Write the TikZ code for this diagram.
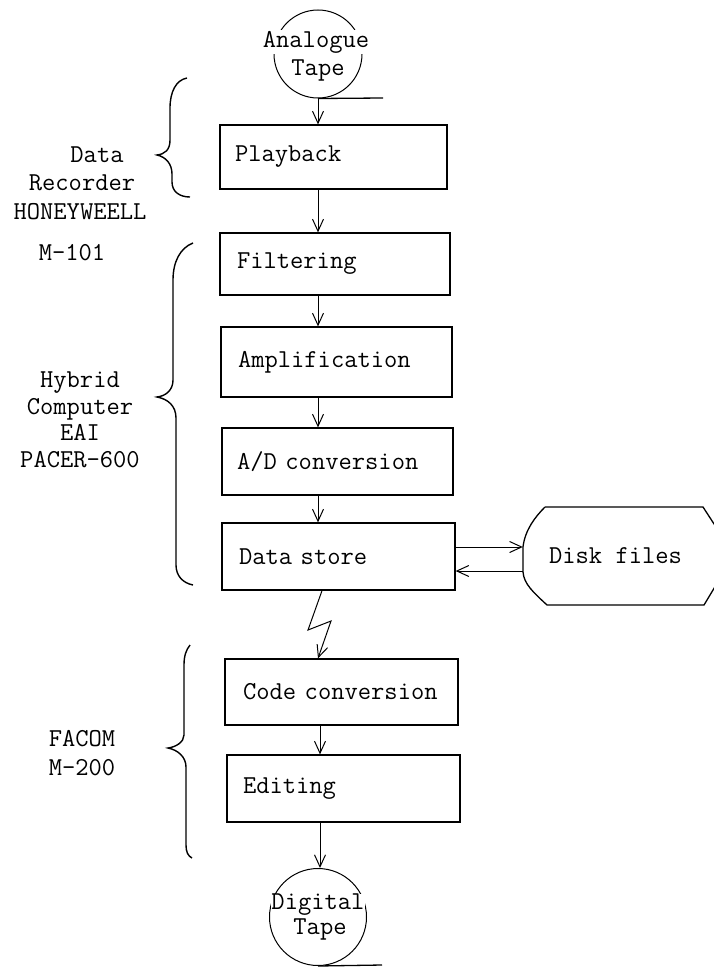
\documentclass[tikz,border=0pt]{standalone}
\usepackage{fontspec}
\usetikzlibrary{arrows.meta}
\begin{document}
\begin{tikzpicture}[x=1pt,y=-1pt,
  every node/.style={font=\fontsize{25.8}{27}\ttfamily},
  procbox/.style={draw, line width=1.3pt, inner xsep=0pt, inner ysep=0pt, align=left},
  arr/.style={line width=1pt, -{Straight Barb[length=12pt,width=11pt,line width=1pt]}},
  bracepath/.style={line width=1.4pt},
  tapecirc/.style={draw, circle, line width=1pt, inner sep=0pt},
  tapetext/.style={fill=white, inner sep=0.5pt},
  sidelabel/.style={align=center, inner sep=0pt}
]
\useasboundingbox[fill=white] (0,0) rectangle (714,969);

\coordinate (ax) at (318,0);
\coordinate (bx) at (320,0);
\coordinate (lx) at (322,0);

% analogue tape
\node[tapecirc, minimum size=88pt] (atape) at (318,54) {};
\node[tapetext] (atxt1) at (316,42) {Analogue};
\node[tapetext] (atxt2) at (318,70) {Tape};
\coordinate (atail) at (383,98);
\draw[line width=1.3pt] (atape.south) -- (atail);

% boxes
\node[procbox, minimum width=227pt, minimum height=64pt, text width=197pt] (play) at (333.5,157) {Playback};
\node[procbox, minimum width=230pt, minimum height=62pt, text width=196pt] (filt) at (335,264) {Filtering};
\node[procbox, minimum width=231pt, minimum height=70pt, text width=197pt] (amp) at (336.5,362) {Amplification};
\node[procbox, minimum width=231pt, minimum height=67pt, text width=201pt] (ad) at (337.5,461.5) {\mbox{A/D conversion}};
\node[procbox, minimum width=233pt, minimum height=67pt, text width=199pt] (store) at (338.5,556.5) {\mbox{Data store}};
\node[procbox, minimum width=233pt, minimum height=66pt, text width=197pt] (code) at (341.5,692) {\raisebox{-5pt}{\mbox{Code conversion}}};
\node[procbox, minimum width=233pt, minimum height=67pt, text width=201pt] (edit) at (343.5,788.5) {\raisebox{-6pt}{Editing}};

% disk files
\node[inner sep=0pt, minimum width=191pt, minimum height=98pt] (disk) at (618.5,556) {\hspace*{-6pt}Disk files};
\draw[line width=1.3pt] (545,507) -- (703,507) -- (716,527) -- (716,585) -- (704,605) -- (547,605)
  .. controls (533,592) and (524,584) .. (523,572) -- (523,547) .. controls (525,530) and (535,517) .. (545,507);

% digital tape
\node[tapecirc, minimum size=97pt] (dtape) at (318,917) {};
\node[tapetext] (dtxt1) at (318,905) {Digital};
\node[tapetext] (dtxt2) at (320,929) {Tape};
\coordinate (dtail) at (382,965);
\draw[line width=1.3pt] (dtape.south) -- (dtail);

% arrows
\draw[arr] (atape.south) -- (play.north -| atape.south);
\draw[arr] (play.south -| ax) -- (filt.north -| ax);
\draw[arr] (filt.south -| ax) -- (amp.north -| ax);
\draw[arr] (amp.south -| ax) -- (ad.north -| ax);
\draw[arr] (ad.south -| ax) -- (store.north -| ax);
\draw[arr] (code.south -| bx) -- (edit.north -| bx);
\draw[arr] (edit.south -| bx) -- (dtape.north -| bx);
\draw[arr] (store.south -| lx) -- (308,630) -- (331,621) -- (code.north -| ax);

\coordinate (up) at (0,547);
\coordinate (dn) at (0,571);
\draw[arr] (store.east |- up) -- (disk.west |- up);
\draw[arr] (disk.west |- dn) -- (store.east |- dn);

% braces
\draw[bracepath] (187,78) .. controls (176,80) and (170,92) .. (170,108) -- (170,140)
  .. controls (170,150) and (165,154) .. (157,155) .. controls (166,157) and (172,164) .. (172,174)
  -- (172,182) .. controls (172,192) and (180,197) .. (190,197);
\draw[bracepath] (193,243) .. controls (180,248) and (173,262) .. (173,280) -- (173,380)
  .. controls (173,390) and (166,396) .. (157,397) .. controls (168,399) and (176,406) .. (176,418)
  -- (176,565) .. controls (176,576) and (183,583) .. (193,585);
\draw[bracepath] (190,645) .. controls (186,650) and (184,656) .. (184,665) -- (184,735)
  .. controls (184,742) and (176,747) .. (168,748) .. controls (178,750) and (186,757) .. (186,767)
  -- (186,845) .. controls (186,852) and (188,856) .. (192,858);

% side labels
\node[sidelabel] (l1) at (97,155) {Data};
\node[sidelabel] (l2) at (82,183) {Recorder};
\node[sidelabel] (l3) at (80,212) {HONEYWEELL};
\node[sidelabel] (l4) at (72,253) {M-101};
\node[sidelabel] (l5) at (80,420) {Hybrid\\[-0.5pt]Computer\\[-0.5pt]EAI\\[-0.5pt]PACER-600};
\node[sidelabel, align=left] (l6) at (82,753) {FACOM\\[2pt]M-200};
\end{tikzpicture}
\end{document}
